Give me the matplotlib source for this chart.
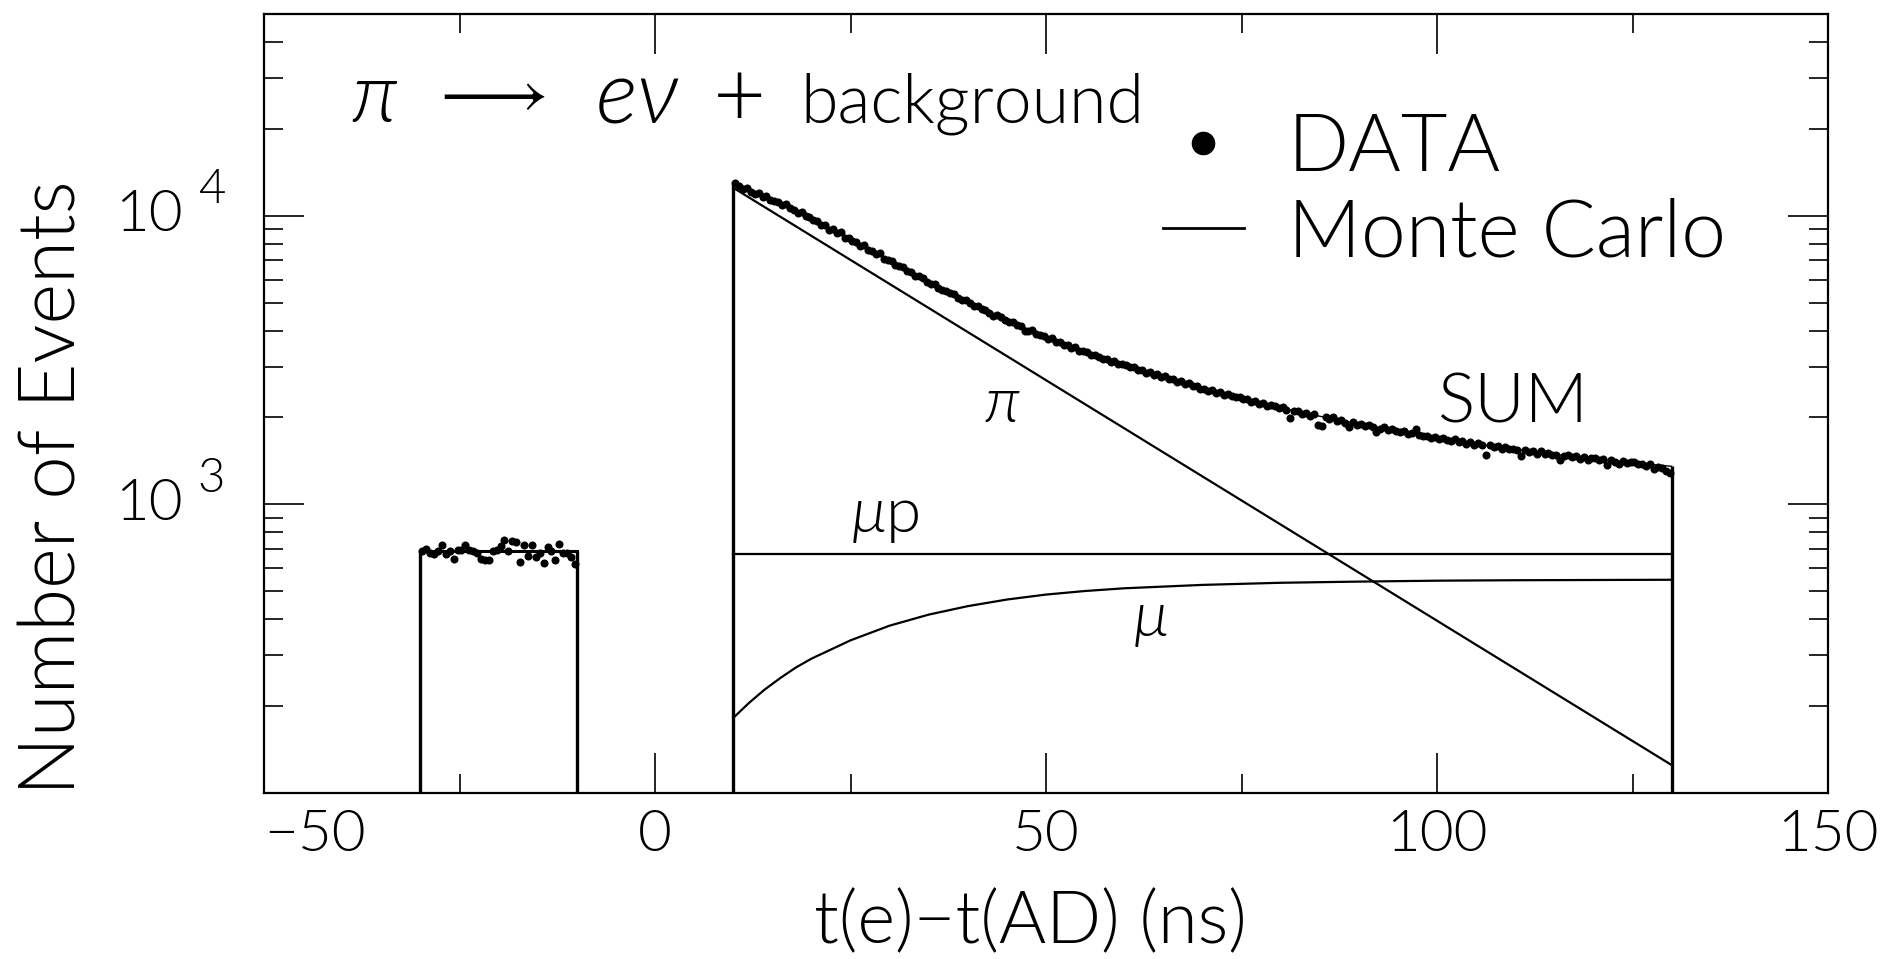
import numpy as np
import matplotlib
matplotlib.use('Agg')
import matplotlib.pyplot as plt
import matplotlib.transforms as mtransforms
from matplotlib.lines import Line2D
from matplotlib.ticker import FixedLocator, LogLocator, NullFormatter

plt.rcParams['font.family'] = ['Lato', 'DejaVu Sans']
plt.rcParams['font.weight'] = 300
plt.rcParams['mathtext.fontset'] = 'custom'
plt.rcParams['mathtext.it'] = 'Lato:italic:weight=300'
plt.rcParams['mathtext.rm'] = 'Lato:weight=300'
plt.rcParams['mathtext.sf'] = 'Lato:weight=300'
plt.rcParams['mathtext.fallback'] = 'stix'

# measured spectrum, 0.5 ns bins
bin_width = 0.5
bkg_counts = [690, 703, 676, 672, 687, 722, 672, 690, 646, 696,
              694, 722, 694, 687, 681, 646, 643, 643, 687, 694,
              718, 751, 687, 747, 741, 632, 722, 660, 722, 658,
              681, 626, 713, 690, 643, 728, 676, 676, 655, 621]
sig_counts = [12950, 12700, 12400, 12450, 12050,
              11900, 11950, 11650, 11700, 11350,
              11250, 11200, 10900, 10950, 10600,
              10450, 10250, 10300, 9950, 9900,
              9650, 9600, 9300, 9280, 8950, 9000, 8700, 8750, 8400, 8380,
              8150, 8100, 7850, 7900, 7600, 7550, 7350, 7400, 7100, 7050,
              6950, 6750, 6700, 6620, 6420, 6380, 6200, 6180, 6080, 5900,
              5800, 5780, 5640, 5520, 5500, 5380, 5350, 5200, 5100, 5090,
              5000, 4880, 4870, 4750, 4720, 4600, 4500, 4530, 4460, 4360,
              4300, 4270, 4180, 4160, 4000, 3980, 4010, 3900, 3860, 3840,
              3750, 3760, 3660, 3650, 3580, 3570, 3490, 3500, 3400, 3410,
              3360, 3300, 3290, 3230, 3200, 3190, 3120, 3140, 3060, 3070,
              3050, 2980, 2990, 2920, 2930, 2850, 2870, 2810, 2820, 2760,
              2780, 2710, 2720, 2660, 2670, 2610, 2640, 2570, 2580, 2520,
              2520, 2480, 2490, 2430, 2450, 2390, 2410, 2370, 2350, 2360,
              2310, 2320, 2260, 2280, 2230, 2250, 2190, 2210, 2200, 2150,
              2170, 2130, 1990, 2100, 2110, 2060, 2070, 2030, 2050, 1880,
              1870, 2010, 1980, 2000, 1950, 1960, 1920, 1850, 1930, 1890,
              1900, 1870, 1880, 1850, 1780, 1830, 1850, 1810, 1820, 1790,
              1780, 1790, 1760, 1770, 1820, 1740, 1720, 1730, 1700, 1710,
              1690, 1700, 1670, 1660, 1680, 1640, 1660, 1620, 1640, 1610,
              1630, 1600, 1480, 1610, 1580, 1590, 1560, 1575, 1550, 1560,
              1540, 1470, 1545, 1520, 1530, 1500, 1525, 1490, 1510, 1480,
              1480, 1420, 1470, 1480, 1455, 1475, 1440, 1460, 1430, 1450,
              1445, 1420, 1435, 1370, 1425, 1400, 1380, 1410, 1395, 1405,
              1400, 1380, 1385, 1360, 1375, 1330, 1350, 1340, 1300, 1280]
bkg_t = np.arange(-30, -10, bin_width) + bin_width / 2
sig_t = np.arange(10, 130, bin_width) + bin_width / 2

# Monte Carlo curves
sum_t = [10, 12.5, 15, 17.5, 20, 25, 30, 35, 40, 45, 50, 55, 60, 65, 70,
         75, 80, 85, 90, 95, 100, 105, 110, 115, 120, 125, 130]
sum_mc = [12900, 12100, 11400, 10600, 9800, 8280, 6980, 5900, 5030, 4350,
          3800, 3370, 3040, 2770, 2520, 2330, 2160, 2020, 1900, 1790, 1700,
          1620, 1550, 1490, 1440, 1395, 1355]
pi_t = [10, 130]
pi_mc = [12500, 125]
mup_t = [10, 130]
mup_mc = [675, 675]
mu_t = [10, 12, 14, 16, 18, 20, 25, 30, 35, 40, 45, 50, 55, 60, 70, 80,
        90, 100, 110, 120, 130]
mu_mc = [182, 205, 228, 250, 272, 292, 338, 380, 415, 444, 468, 487, 501,
         512, 526, 535, 540, 544, 546, 547, 548]
bkg_mc_t = [-30, -10]
bkg_mc = [688, 688]

fig = plt.figure(figsize=(18.9, 9.59), dpi=100)
ax = fig.add_axes([0.1397, 0.1731, 0.8275, 0.8123])
ax.set_yscale('log')
ax.set_xlim(-50, 150)
ax.set_ylim(100, 5e4)
y_floor = ax.get_ylim()[0]

# histogram boxes
ax.plot(bkg_mc_t, bkg_mc, color='k', lw=2.2)
ax.vlines(bkg_mc_t, y_floor, bkg_mc, color='k', lw=2.4)
ax.vlines([sum_t[0], sum_t[-1]], y_floor, [sum_mc[0], sum_mc[-1]], color='k', lw=2.4)

ax.plot(sum_t, sum_mc, color='k', lw=1.0)
ax.plot(pi_t, pi_mc, color='k', lw=1.6)
ax.plot(mup_t, mup_mc, color='k', lw=1.6)
ax.plot(mu_t, mu_mc, color='k', lw=1.6)

ax.plot(bkg_t, bkg_counts, 'o', color='k', ms=5.8, mew=0)
ax.plot(sig_t, sig_counts, 'o', color='k', ms=5.8, mew=0)

# curve labels
ax.text(44.4, 2213, r'$\pi$', fontsize=46, ha='center', va='center')
ax.text(29.5, 905, r'$\mu$p', fontsize=46, ha='center', va='center')
ax.text(63.3, 395, r'$\mu$', fontsize=46, ha='center', va='center')
ax.text(109.7, 2240, 'SUM', fontsize=50, ha='center', va='center')

# title: pi -> e nu + background
title_y = 0.861
ax.text(0.0556, title_y, r'$\pi$', fontsize=60,
        transform=ax.transAxes, ha='left', va='baseline')
ax.text(0.1058, title_y + 0.036, r'$\longrightarrow$', fontsize=49,
        transform=ax.transAxes, ha='left', va='center')
ax.text(0.2116, title_y, r'$e\nu$', fontsize=64,
        transform=ax.transAxes, ha='left', va='baseline')
ax.text(0.2870, title_y + 0.028, '+', fontsize=66,
        transform=ax.transAxes, ha='left', va='center')
ax.text(0.343, title_y, 'background', fontsize=49,
        transform=ax.transAxes, ha='left', va='baseline')

handles = [Line2D([], [], marker='o', ls='none', color='k', ms=16),
           Line2D([], [], color='k', lw=2)]
ax.legend(handles, ['DATA', 'Monte Carlo'], loc='upper left',
          bbox_to_anchor=(0.5748, 0.874), frameon=False, fontsize=58,
          handlelength=1.0, handletextpad=0.55, borderpad=0,
          borderaxespad=0, labelspacing=0.15)

# ticks
ax.xaxis.set_major_locator(FixedLocator([-50, 0, 50, 100, 150]))
ax.xaxis.set_minor_locator(FixedLocator([-25, 25, 75, 125]))
ax.yaxis.set_major_locator(FixedLocator([1e3, 1e4]))
ax.yaxis.set_minor_locator(LogLocator(base=10, subs=np.arange(2, 10)))
ax.yaxis.set_major_formatter(NullFormatter())
ax.yaxis.set_minor_formatter(NullFormatter())
ax.tick_params(which='both', direction='in', top=True, right=True, width=1.2)
ax.tick_params(which='major', length=29)
ax.tick_params(which='minor', length=14)
ax.tick_params(axis='x', labelsize=42, pad=12)
for lab in ax.get_xticklabels():
    if lab.get_text().endswith('50') and lab.get_position()[0] < 0:
        lab.set_ha('left')
for sp in ax.spines.values():
    sp.set_linewidth(1.6)

# y tick labels as 10 with raised exponent
trans = mtransforms.blended_transform_factory(ax.transAxes, ax.transData)
raise_exp = mtransforms.ScaledTranslation(0, 0.255, fig.dpi_scale_trans)
for val, expo in [(1e3, '3'), (1e4, '4')]:
    ax.text(-0.0518, val, '10', transform=trans, fontsize=42,
            ha='right', va='center')
    ax.text(-0.0249, val, expo, transform=trans + raise_exp, fontsize=34,
            ha='right', va='center')

fig.text(0.0095, 0.492, 'Number of Events', rotation=90, fontsize=56,
         ha='left', va='center')
fig.text(0.545, 0.003, 't(e)\u2212t(AD) (ns)', fontsize=52,
         ha='center', va='bottom')

fig.savefig('out.png', dpi=100)
